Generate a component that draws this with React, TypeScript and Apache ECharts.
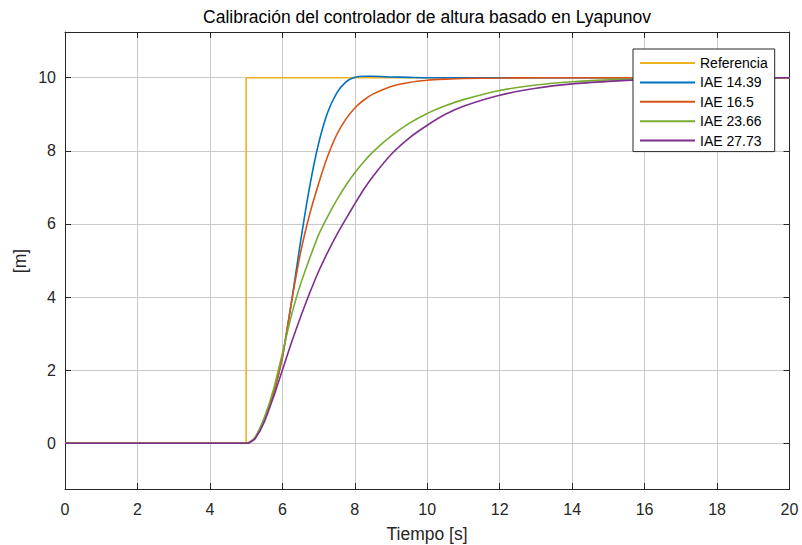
import React, { useEffect, useRef } from "react";
import * as echarts from "echarts";

// ---- Data ----
const refTime = [0, 5, 5, 20];
const refValue = [0, 0, 10, 10];

const timeGrid = [0, 5, 5.1, 5.25, 5.5, 5.75, 6, 6.25, 6.5, 6.75, 7, 7.25, 7.5, 7.75, 8, 8.25, 8.5, 9, 9.5, 10, 10.5, 11, 12, 13, 14, 15, 16, 17, 18, 20];

const iae1439 = [0, 0, 0.03, 0.15, 0.65, 1.35, 2.35, 3.85, 5.5, 7.0, 8.2, 9.05, 9.58, 9.88, 10.01, 10.04, 10.04, 10.02, 10.01, 10, 10, 10, 10, 10, 10, 10, 10, 10, 10, 10];
const iae165 = [0, 0, 0.03, 0.15, 0.65, 1.35, 2.35, 3.85, 5.2, 6.25, 7.1, 7.85, 8.44, 8.86, 9.17, 9.39, 9.55, 9.76, 9.87, 9.93, 9.96, 9.98, 9.99, 10, 10, 10, 10, 10, 10, 10];
const iae2366 = [0, 0, 0.03, 0.17, 0.7, 1.45, 2.45, 3.5, 4.35, 5.05, 5.7, 6.2, 6.65, 7.05, 7.4, 7.7, 7.97, 8.4, 8.75, 9.02, 9.23, 9.4, 9.65, 9.8, 9.89, 9.94, 9.97, 9.98, 9.99, 10];
const iae2773 = [0, 0, 0.02, 0.13, 0.58, 1.25, 2.0, 2.75, 3.45, 4.1, 4.7, 5.22, 5.7, 6.13, 6.55, 6.95, 7.3, 7.9, 8.35, 8.7, 9.0, 9.22, 9.52, 9.71, 9.83, 9.9, 9.95, 9.97, 9.99, 10];

const seriesNames = ["Referencia", "IAE 14.39", "IAE 16.5", "IAE 23.66", "IAE 27.73"];
const seriesColors = ["#EDB120", "#0072BD", "#D95319", "#77AC30", "#7E2F8E"];

const xTicks = [0, 2, 4, 6, 8, 10, 12, 14, 16, 18, 20];
const yTicks = [0, 2, 4, 6, 8, 10];

const titleText = "Calibración del controlador de altura basado en Lyapunov";
const xLabelText = "Tiempo [s]";
const yLabelText = "[m]";

const FONT = "'Liberation Sans', Arial, Helvetica, sans-serif";
const AXIS_COLOR = "#262626";
const GRID_COLOR = "#c9c9c9";

function pairs(t: number[], v: number[]) {
  return t.map((x, i) => [x, v[i]]);
}

export default function App() {
  const ref = useRef<HTMLDivElement>(null);

  useEffect(() => {
    document.body.style.margin = "0";
    if (!ref.current) return;
    const chart = echarts.init(ref.current, undefined, { renderer: "svg" });

    const curves = [
      pairs(refTime, refValue),
      pairs(timeGrid, iae1439),
      pairs(timeGrid, iae165),
      pairs(timeGrid, iae2366),
      pairs(timeGrid, iae2773),
    ];

    const axisLine = { show: true, onZero: false, lineStyle: { color: AXIS_COLOR, width: 1 } };
    const axisTick = { show: true, inside: true, length: 6, lineStyle: { color: AXIS_COLOR, width: 1 } };

    const option: any = {
      animation: false,
      backgroundColor: "#ffffff",
      grid: { left: 65, right: 12.5, top: 32, bottom: 56, containLabel: false },
      xAxis: [
        {
          type: "value",
          min: xTicks[0],
          max: xTicks[xTicks.length - 1],
          interval: 2,
          position: "bottom",
          axisLine,
          axisTick,
          axisLabel: { color: AXIS_COLOR, fontSize: 16, fontFamily: FONT, margin: 12 },
          splitLine: { show: true, lineStyle: { color: GRID_COLOR, width: 1 } },
        },
        {
          type: "value",
          min: xTicks[0],
          max: xTicks[xTicks.length - 1],
          interval: 2,
          position: "top",
          axisLine,
          axisTick,
          axisLabel: { show: false },
          splitLine: { show: false },
        },
      ],
      yAxis: [
        {
          type: "value",
          min: -1.25,
          max: 11.25,
          position: "left",
          axisLine,
          axisTick: { ...axisTick, customValues: yTicks },
          axisLabel: { customValues: yTicks, color: AXIS_COLOR, fontSize: 16, fontFamily: FONT, margin: 9 },
          splitLine: { show: true, lineStyle: { color: GRID_COLOR, width: 1 } },
        },
        {
          type: "value",
          min: -1.25,
          max: 11.25,
          position: "right",
          axisLine,
          axisTick: { ...axisTick, customValues: yTicks },
          axisLabel: { show: false, customValues: yTicks },
          splitLine: { show: false },
        },
      ],
      legend: {
        orient: "vertical",
        left: 633,
        top: 49,
        z: 20,
        padding: [7, 7, 4, 6],
        itemWidth: 55,
        itemHeight: 14,
        itemGap: 5.4,
        borderColor: AXIS_COLOR,
        borderWidth: 1,
        borderRadius: 0,
        backgroundColor: "#ffffff",
        itemStyle: { opacity: 0 },
        lineStyle: { width: 2 },
        textStyle: { fontSize: 14, color: "#000000", fontFamily: FONT },
        data: seriesNames,
      },
      series: curves.map((d, i) => ({
        type: "line",
        name: seriesNames[i],
        xAxisIndex: 0,
        yAxisIndex: 0,
        data: d,
        symbol: "none",
        showSymbol: false,
        smooth: i === 0 ? false : 0.2,
        color: seriesColors[i],
        lineStyle: { color: seriesColors[i], width: 1.6 },
        z: 2 + i,
      })),
      graphic: [
        {
          type: "text",
          x: 427,
          y: 17,
          style: {
            text: titleText,
            fontSize: 17.5,
            fontFamily: FONT,
            fill: "#000000",
            textAlign: "center",
            textVerticalAlign: "middle",
          },
        },
        {
          type: "text",
          x: 427,
          y: 534,
          style: {
            text: xLabelText,
            fontSize: 17.5,
            fontFamily: FONT,
            fill: AXIS_COLOR,
            textAlign: "center",
            textVerticalAlign: "middle",
          },
        },
        {
          type: "text",
          x: 20,
          y: 261,
          rotation: Math.PI / 2,
          style: {
            text: yLabelText,
            fontSize: 17.5,
            fontFamily: FONT,
            fill: AXIS_COLOR,
            textAlign: "center",
            textVerticalAlign: "middle",
          },
        },
      ],
    };

    chart.setOption(option);
    return () => chart.dispose();
  }, []);

  return (
    <div
      ref={ref}
      style={{ position: "absolute", left: 0, top: 0, width: 802, height: 545 }}
    />
  );
}
